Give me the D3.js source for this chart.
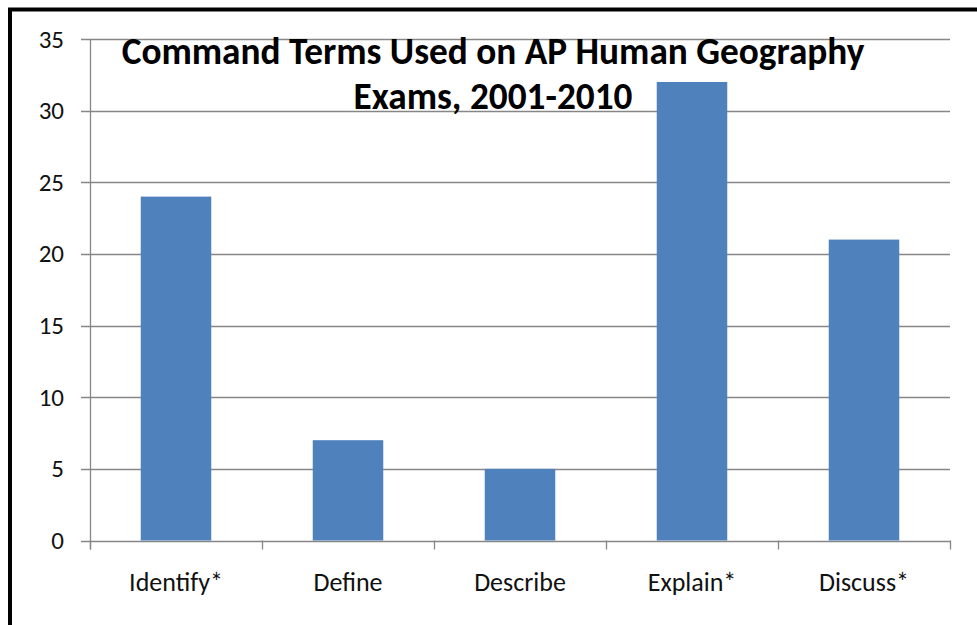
<!DOCTYPE html>
<html>
<head>
<meta charset="utf-8">
<script src="https://cdn.jsdelivr.net/npm/d3@7"></script>
<style>
  html, body { margin: 0; padding: 0; background: #fff; }
  svg { display: block; }
  text { font-family: Carlito, Calibri, Lato, "Open Sans", sans-serif; }
</style>
</head>
<body>
<svg id="chart"></svg>
<script>
// values
var categories = ['Identify*', 'Define', 'Describe', 'Explain*', 'Discuss*'];
var counts = [24, 7, 5, 32, 21];
var yTicks = [0, 5, 10, 15, 20, 25, 30, 35];
var titleLines = ['Command Terms Used on AP Human Geography', 'Exams, 2001-2010'];

var width = 977, height = 625;
var svg = d3.select('#chart').attr('width', width).attr('height', height);

// outer frame (only the left and top edges show in the picture)
svg.append('line').attr('x1', 10).attr('x2', 10).attr('y1', 8).attr('y2', height)
    .attr('stroke', '#000').attr('stroke-width', 4);
svg.append('line').attr('x1', 8).attr('x2', width).attr('y1', 9.5).attr('y2', 9.5)
    .attr('stroke', '#000').attr('stroke-width', 4);

var plot = {left: 90, right: 950, top: 39, bottom: 540.5};

var x = d3.scaleBand()
    .domain(categories)
    .range([plot.left, plot.right])
    .paddingInner(0.59)
    .paddingOuter(0.295);

var y = d3.scaleLinear()
    .domain([0, 35])
    .range([plot.bottom, plot.top]);

var gridColor = '#868686';

// horizontal gridlines with ticks on the left
svg.append('g').selectAll('line')
    .data(yTicks)
    .enter()
    .append('line')
    .attr('x1', plot.left - 9)
    .attr('x2', plot.right)
    .attr('y1', d => Math.round(y(d)) + 0.5)
    .attr('y2', d => Math.round(y(d)) + 0.5)
    .attr('stroke', gridColor)
    .attr('stroke-width', 1.3);

// y axis line
svg.append('line')
    .attr('x1', plot.left + 0.5).attr('x2', plot.left + 0.5)
    .attr('y1', plot.top).attr('y2', plot.bottom + 9)
    .attr('stroke', gridColor).attr('stroke-width', 1.3);

// category boundary ticks
var step = x.step();
var bounds = d3.range(categories.length + 1).map(i => plot.left + i * step);
svg.append('g').selectAll('line')
    .data(bounds)
    .enter()
    .append('line')
    .attr('x1', d => Math.round(d) + 0.5)
    .attr('x2', d => Math.round(d) + 0.5)
    .attr('y1', plot.bottom)
    .attr('y2', plot.bottom + 9)
    .attr('stroke', gridColor)
    .attr('stroke-width', 1.3);

// bars
svg.append('g').selectAll('rect')
    .data(categories)
    .enter()
    .append('rect')
    .attr('x', d => x(d))
    .attr('width', x.bandwidth())
    .attr('y', (d, i) => y(counts[i]))
    .attr('height', (d, i) => y(0) - y(counts[i]))
    .attr('fill', '#4F81BD');

// y tick labels
svg.append('g').selectAll('text')
    .data(yTicks)
    .enter()
    .append('text')
    .attr('x', 64)
    .attr('y', d => y(d))
    .attr('dy', '0.34em')
    .attr('text-anchor', 'end')
    .attr('font-size', '25px')
    .attr('fill', '#111')
    .text(d => d);

// x category labels
svg.append('g').selectAll('text')
    .data(categories)
    .enter()
    .append('text')
    .attr('x', d => x(d) + x.bandwidth() / 2)
    .attr('y', 591)
    .attr('text-anchor', 'middle')
    .attr('font-size', '26px')
    .attr('fill', '#111')
    .text(d => d);

// title, two lines, sized to the width seen in the picture
var title = svg.append('g').selectAll('text')
    .data(titleLines)
    .enter()
    .append('text')
    .attr('x', 493)
    .attr('y', (d, i) => 64 + i * 45)
    .attr('text-anchor', 'middle')
    .attr('font-weight', 'bold')
    .attr('font-size', '30px')
    .attr('fill', '#000')
    .text(d => d);

var w0 = title.nodes()[0].getComputedTextLength();
var fs = 30 * 743 / w0;
title.attr('font-size', fs + 'px');
</script>
</body>
</html>
